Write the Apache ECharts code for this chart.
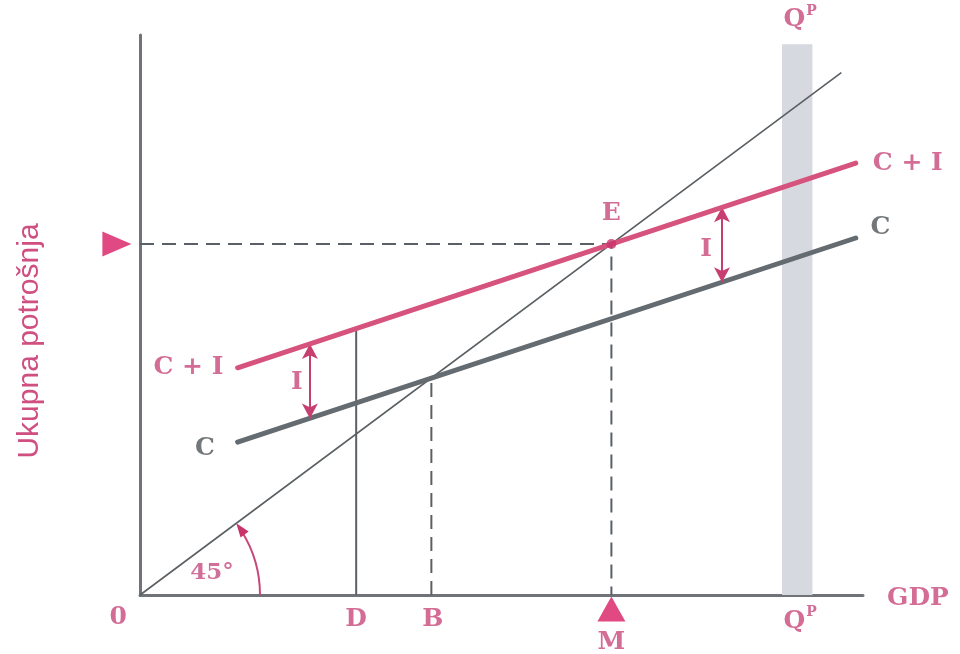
<!DOCTYPE html>
<html>
<head>
<meta charset="utf-8">
<script src="https://cdn.jsdelivr.net/npm/echarts@6/dist/echarts.min.js"></script>
<style>
  html, body { margin: 0; padding: 0; background: #fff; }
  #main { width: 960px; height: 654px; }
</style>
</head>
<body>
<div id="main"></div>
<script>
// podaci (jedinice: GDP na osi x, ukupna potrošnja na osi y)
const linija45 = [[0, 0], [97, 97]]
const potrosnjaC = [[13.5, 28.4], [99, 66.3]]
const potrosnjaCI = [[13.5, 42.2], [99, 80.2]]
const ravnotezaE = [65.2, 65.2]
const tockaD = [29.9, 49.4]
const tockaB = [40.3, 40.3]
// investicije I: [x, C, C + I]
const investicijeI = [[23.5, 32.8, 46.6], [80.5, 58.1, 72.0]]
// potencijalni GDP: [od, do, visina]
const pojasQP = [88.8, 93.0, 102.3]

// oznake: [tekst, x, y, boja]
const roza = '#c8487a'
const siva = '#4f5559'
const oznake = [
  ['0', -3.0, -4.1, roza],
  ['D', 29.9, -4.5, roza],
  ['B', 40.5, -4.5, roza],
  ['M', 65.2, -8.9, roza],
  ['QP', 91.3, -4.6, roza],
  ['GDP', 107.6, -0.6, roza],
  ['QP', 91.3, 107.1, roza],
  ['E', 65.2, 70.9, roza],
  ['C + I', 106.2, 80.2, roza],
  ['C', 102.4, 68.2, siva],
  ['C + I', 6.7, 42.2, roza],
  ['C', 9.0, 27.3, siva],
  ['I', 21.7, 39.4, roza],
  ['I', 78.3, 64.1, roza]
]

const dom = document.getElementById('main')
const myChart = echarts.init(dom)

const serif = 'DejaVu Serif'

const option = {
  animation: false,
  grid: { left: 140, top: 35, width: 723, height: 560 },
  xAxis: {
    type: 'value', min: 0, max: 100,
    axisLine: { lineStyle: { color: '#707478', width: 3 } },
    axisTick: { show: false }, axisLabel: { show: false }, splitLine: { show: false }
  },
  yAxis: {
    type: 'value', min: 0, max: 104,
    axisLine: { show: true, lineStyle: { color: '#707478', width: 3 } },
    axisTick: { show: false }, axisLabel: { show: false }, splitLine: { show: false }
  },
  graphic: [{
    type: 'text',
    x: 30, y: 341,
    rotation: Math.PI / 2,
    style: {
      text: 'Ukupna potrošnja',
      fill: '#cf4f80',
      font: '30px "Liberation Sans"',
      align: 'center',
      verticalAlign: 'middle'
    }
  }],
  series: [
    // pojas QP
    {
      type: 'line', data: [], silent: true, z: 1,
      markArea: {
        silent: true,
        itemStyle: { color: '#d6d9df' },
        data: [[{ coord: [pojasQP[0], 0] }, { coord: [pojasQP[1], pojasQP[2]] }]]
      }
    },
    // 45° linija
    {
      type: 'line', data: linija45, showSymbol: false, z: 3,
      lineStyle: { color: '#5a5f63', width: 1.6 }
    },
    // isprekidane linije
    {
      type: 'line', data: [[0, ravnotezaE[1]], ravnotezaE, [ravnotezaE[0], 0]], showSymbol: false, z: 2,
      lineStyle: { color: '#5a6066', width: 2, type: [14, 8] }
    },
    {
      type: 'line', data: [[tockaB[0], 0], tockaB], showSymbol: false, z: 2,
      lineStyle: { color: '#5a6066', width: 2, type: [14, 8] }
    },
    // D
    {
      type: 'line', data: [[tockaD[0], 0], tockaD], showSymbol: false, z: 2,
      lineStyle: { color: '#5a6066', width: 2 }
    },
    // C
    {
      type: 'line', data: potrosnjaC, showSymbol: false, z: 4,
      lineStyle: { color: '#646c72', width: 5, cap: 'round' }
    },
    // C + I
    {
      type: 'line', data: potrosnjaCI, showSymbol: false, z: 5,
      lineStyle: { color: '#d6537e', width: 5, cap: 'round' }
    },
    // strelice I
    {
      type: 'line', data: [], z: 6,
      markLine: {
        silent: true,
        symbol: ['arrow', 'arrow'],
        symbolSize: [12, 15],
        label: { show: false },
        lineStyle: { color: '#c63f70', width: 2, type: 'solid' },
        data: investicijeI.map(d => [{ coord: [d[0], d[1]] }, { coord: [d[0], d[2]] }])
      }
    },
    // točka E
    {
      type: 'scatter', data: [ravnotezaE], symbolSize: 10, z: 7,
      itemStyle: { color: '#c8336a' }
    },
    // trokuti na osima
    {
      type: 'scatter', clip: false, z: 7,
      data: [
        { value: [-3.2, ravnotezaE[1]], symbolRotate: -90, symbolSize: [25, 29] },
        { value: [ravnotezaE[0], -2.6], symbolRotate: 0, symbolSize: [28, 25] }
      ],
      symbol: 'triangle',
      itemStyle: { color: '#d81b62' }
    },
    // luk od 45°
    {
      type: 'custom', clip: false, z: 6,
      data: [[0, 0]],
      renderItem: function (params, api) {
        const o = api.coord([0, 0])
        const k = api.coord(linija45[1])
        const ang = Math.atan2(k[1] - o[1], k[0] - o[0])
        const r = 120
        const t = [o[0] + r * Math.cos(ang), o[1] + r * Math.sin(ang)]
        const d = [Math.sin(ang), -Math.cos(ang)]
        const b = [t[0] - d[0] * 14, t[1] - d[1] * 14]
        const n = [-d[1], d[0]]
        return {
          type: 'group',
          children: [
            {
              type: 'arc',
              shape: { cx: o[0], cy: o[1], r: r, startAngle: ang + 0.08, endAngle: 0, clockwise: true },
              style: { stroke: '#c8487a', lineWidth: 2, fill: null }
            },
            {
              type: 'polygon',
              shape: { points: [t, [b[0] + n[0] * 5, b[1] + n[1] * 5], [b[0] - n[0] * 5, b[1] - n[1] * 5]] },
              style: { fill: '#c8336a' }
            },
            {
              type: 'text',
              x: o[0] + 72, y: o[1] - 22,
              style: {
                text: '45°', fill: '#d0709a', font: 'bold 23px "' + serif + '"',
                align: 'center', verticalAlign: 'middle'
              }
            }
          ]
        }
      }
    },
    // tekstualne oznake
    {
      type: 'scatter', clip: false, z: 8, symbolSize: 0,
      data: oznake.map(o => ({
        name: o[0],
        value: [o[1], o[2]],
        label: { color: o[3] }
      })),
      label: {
        show: true,
        position: 'inside',
        fontFamily: serif,
        fontWeight: 'bold',
        fontSize: 25,
        formatter: function (p) {
          if (p.name === 'QP') return '{q|Q}{p|P}'
          return p.name
        },
        rich: {
          q: { fontFamily: serif, fontWeight: 'bold', fontSize: 25, lineHeight: 28, verticalAlign: 'bottom' },
          p: { fontFamily: serif, fontWeight: 'bold', fontSize: 14, lineHeight: 28, verticalAlign: 'top', padding: [0, 0, 12, 1] }
        }
      }
    }
  ]
}

myChart.setOption(option)
</script>
</body>
</html>
